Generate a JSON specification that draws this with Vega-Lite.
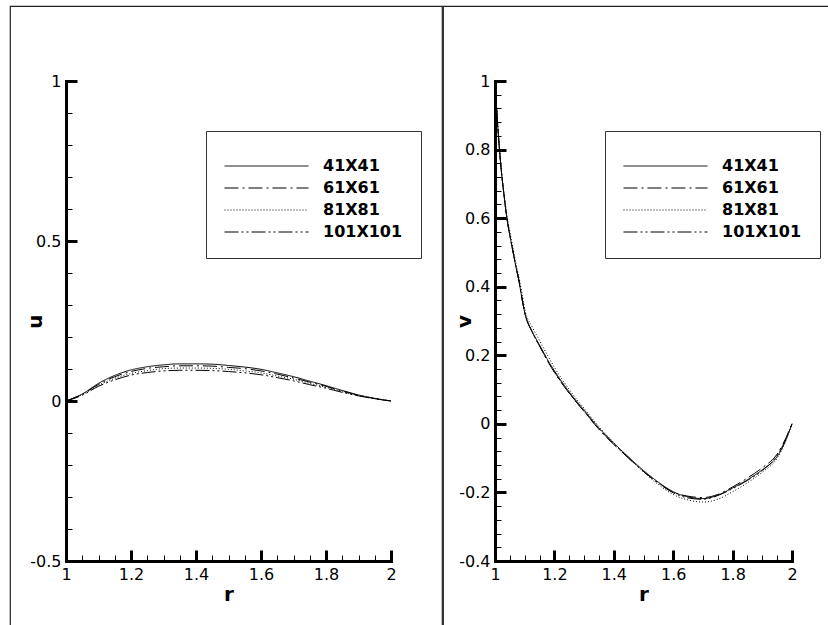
{
  "$schema": "https://vega.github.io/schema/vega-lite/v6.json",
  "padding": {"left": 9, "top": 5, "right": 0, "bottom": 0},
  "background": "white",
  "spacing": -2,
  "config": {
    "view": {"stroke": "#222", "strokeWidth": 1.2, "fill": "white"},
    "axis": {"grid": false, "domainColor": "black", "domainWidth": 3, "domainCap": "square", "tickColor": "black", "labelFont": "DejaVu Sans", "labelFontSize": 16, "labelColor": "black", "labelFlush": false, "labelOverlap": false, "titleFont": "DejaVu Sans", "titleFontSize": 20, "titleFontWeight": "bold", "titleColor": "black"},
    "line": {"color": "black", "strokeWidth": 1, "interpolate": "monotone"}
  },
  "resolve": {"scale": {"strokeDash": "independent"}, "legend": {"strokeDash": "independent"}},
  "datasets": {
    "u": [
      {"r":1.00,"u":0,"g":"41X41"},{"r":1.05,"u":0.022,"g":"41X41"},{"r":1.10,"u":0.055,"g":"41X41"},{"r":1.15,"u":0.080,"g":"41X41"},{"r":1.20,"u":0.097,"g":"41X41"},{"r":1.25,"u":0.107,"g":"41X41"},{"r":1.30,"u":0.113,"g":"41X41"},{"r":1.35,"u":0.116,"g":"41X41"},{"r":1.40,"u":0.116,"g":"41X41"},{"r":1.45,"u":0.115,"g":"41X41"},{"r":1.50,"u":0.111,"g":"41X41"},{"r":1.55,"u":0.106,"g":"41X41"},{"r":1.60,"u":0.099,"g":"41X41"},{"r":1.65,"u":0.088,"g":"41X41"},{"r":1.70,"u":0.076,"g":"41X41"},{"r":1.75,"u":0.062,"g":"41X41"},{"r":1.80,"u":0.048,"g":"41X41"},{"r":1.85,"u":0.033,"g":"41X41"},{"r":1.90,"u":0.019,"g":"41X41"},{"r":1.95,"u":0.008,"g":"41X41"},{"r":2.00,"u":0,"g":"41X41"},
      {"r":1.00,"u":0,"g":"61X61"},{"r":1.05,"u":0.021,"g":"61X61"},{"r":1.10,"u":0.052,"g":"61X61"},{"r":1.15,"u":0.076,"g":"61X61"},{"r":1.20,"u":0.092,"g":"61X61"},{"r":1.25,"u":0.102,"g":"61X61"},{"r":1.30,"u":0.107,"g":"61X61"},{"r":1.35,"u":0.110,"g":"61X61"},{"r":1.40,"u":0.110,"g":"61X61"},{"r":1.45,"u":0.109,"g":"61X61"},{"r":1.50,"u":0.105,"g":"61X61"},{"r":1.55,"u":0.101,"g":"61X61"},{"r":1.60,"u":0.094,"g":"61X61"},{"r":1.65,"u":0.084,"g":"61X61"},{"r":1.70,"u":0.072,"g":"61X61"},{"r":1.75,"u":0.059,"g":"61X61"},{"r":1.80,"u":0.046,"g":"61X61"},{"r":1.85,"u":0.031,"g":"61X61"},{"r":1.90,"u":0.018,"g":"61X61"},{"r":1.95,"u":0.008,"g":"61X61"},{"r":2.00,"u":0,"g":"61X61"},
      {"r":1.00,"u":0,"g":"81X81"},{"r":1.05,"u":0.020,"g":"81X81"},{"r":1.10,"u":0.049,"g":"81X81"},{"r":1.15,"u":0.071,"g":"81X81"},{"r":1.20,"u":0.086,"g":"81X81"},{"r":1.25,"u":0.095,"g":"81X81"},{"r":1.30,"u":0.101,"g":"81X81"},{"r":1.35,"u":0.103,"g":"81X81"},{"r":1.40,"u":0.103,"g":"81X81"},{"r":1.45,"u":0.102,"g":"81X81"},{"r":1.50,"u":0.099,"g":"81X81"},{"r":1.55,"u":0.094,"g":"81X81"},{"r":1.60,"u":0.088,"g":"81X81"},{"r":1.65,"u":0.078,"g":"81X81"},{"r":1.70,"u":0.068,"g":"81X81"},{"r":1.75,"u":0.055,"g":"81X81"},{"r":1.80,"u":0.043,"g":"81X81"},{"r":1.85,"u":0.029,"g":"81X81"},{"r":1.90,"u":0.017,"g":"81X81"},{"r":1.95,"u":0.007,"g":"81X81"},{"r":2.00,"u":0,"g":"81X81"},
      {"r":1.00,"u":0,"g":"101X101"},{"r":1.05,"u":0.018,"g":"101X101"},{"r":1.10,"u":0.046,"g":"101X101"},{"r":1.15,"u":0.066,"g":"101X101"},{"r":1.20,"u":0.081,"g":"101X101"},{"r":1.25,"u":0.089,"g":"101X101"},{"r":1.30,"u":0.094,"g":"101X101"},{"r":1.35,"u":0.096,"g":"101X101"},{"r":1.40,"u":0.096,"g":"101X101"},{"r":1.45,"u":0.095,"g":"101X101"},{"r":1.50,"u":0.092,"g":"101X101"},{"r":1.55,"u":0.088,"g":"101X101"},{"r":1.60,"u":0.082,"g":"101X101"},{"r":1.65,"u":0.073,"g":"101X101"},{"r":1.70,"u":0.063,"g":"101X101"},{"r":1.75,"u":0.051,"g":"101X101"},{"r":1.80,"u":0.040,"g":"101X101"},{"r":1.85,"u":0.027,"g":"101X101"},{"r":1.90,"u":0.016,"g":"101X101"},{"r":1.95,"u":0.007,"g":"101X101"},{"r":2.00,"u":0,"g":"101X101"}
    ],
    "v": [
      {"r":1.00,"v":1.00,"g":"41X41"},{"r":1.01,"v":0.86,"g":"41X41"},{"r":1.02,"v":0.75,"g":"41X41"},{"r":1.03,"v":0.67,"g":"41X41"},{"r":1.04,"v":0.60,"g":"41X41"},{"r":1.05,"v":0.55,"g":"41X41"},{"r":1.06,"v":0.505,"g":"41X41"},{"r":1.07,"v":0.46,"g":"41X41"},{"r":1.08,"v":0.42,"g":"41X41"},{"r":1.09,"v":0.37,"g":"41X41"},{"r":1.10,"v":0.325,"g":"41X41"},{"r":1.125,"v":0.27,"g":"41X41"},{"r":1.15,"v":0.23,"g":"41X41"},{"r":1.175,"v":0.19,"g":"41X41"},{"r":1.20,"v":0.155,"g":"41X41"},{"r":1.25,"v":0.093,"g":"41X41"},{"r":1.30,"v":0.040,"g":"41X41"},{"r":1.35,"v":-0.012,"g":"41X41"},{"r":1.40,"v":-0.056,"g":"41X41"},{"r":1.45,"v":-0.097,"g":"41X41"},{"r":1.50,"v":-0.136,"g":"41X41"},{"r":1.55,"v":-0.170,"g":"41X41"},{"r":1.60,"v":-0.198,"g":"41X41"},{"r":1.65,"v":-0.213,"g":"41X41"},{"r":1.70,"v":-0.218,"g":"41X41"},{"r":1.75,"v":-0.208,"g":"41X41"},{"r":1.80,"v":-0.187,"g":"41X41"},{"r":1.85,"v":-0.163,"g":"41X41"},{"r":1.90,"v":-0.134,"g":"41X41"},{"r":1.95,"v":-0.095,"g":"41X41"},{"r":1.97,"v":-0.065,"g":"41X41"},{"r":2.00,"v":0,"g":"41X41"},
      {"r":1.00,"v":1.00,"g":"61X61"},{"r":1.01,"v":0.86,"g":"61X61"},{"r":1.02,"v":0.75,"g":"61X61"},{"r":1.03,"v":0.67,"g":"61X61"},{"r":1.04,"v":0.60,"g":"61X61"},{"r":1.05,"v":0.55,"g":"61X61"},{"r":1.06,"v":0.505,"g":"61X61"},{"r":1.07,"v":0.46,"g":"61X61"},{"r":1.08,"v":0.42,"g":"61X61"},{"r":1.09,"v":0.37,"g":"61X61"},{"r":1.10,"v":0.325,"g":"61X61"},{"r":1.125,"v":0.268,"g":"61X61"},{"r":1.15,"v":0.227,"g":"61X61"},{"r":1.175,"v":0.186,"g":"61X61"},{"r":1.20,"v":0.150,"g":"61X61"},{"r":1.25,"v":0.089,"g":"61X61"},{"r":1.30,"v":0.036,"g":"61X61"},{"r":1.35,"v":-0.016,"g":"61X61"},{"r":1.40,"v":-0.060,"g":"61X61"},{"r":1.45,"v":-0.100,"g":"61X61"},{"r":1.50,"v":-0.139,"g":"61X61"},{"r":1.55,"v":-0.172,"g":"61X61"},{"r":1.60,"v":-0.199,"g":"61X61"},{"r":1.65,"v":-0.211,"g":"61X61"},{"r":1.70,"v":-0.215,"g":"61X61"},{"r":1.75,"v":-0.206,"g":"61X61"},{"r":1.80,"v":-0.184,"g":"61X61"},{"r":1.85,"v":-0.158,"g":"61X61"},{"r":1.90,"v":-0.128,"g":"61X61"},{"r":1.95,"v":-0.088,"g":"61X61"},{"r":1.97,"v":-0.058,"g":"61X61"},{"r":2.00,"v":0,"g":"61X61"},
      {"r":1.00,"v":1.00,"g":"81X81"},{"r":1.01,"v":0.86,"g":"81X81"},{"r":1.02,"v":0.755,"g":"81X81"},{"r":1.03,"v":0.675,"g":"81X81"},{"r":1.04,"v":0.61,"g":"81X81"},{"r":1.05,"v":0.56,"g":"81X81"},{"r":1.06,"v":0.515,"g":"81X81"},{"r":1.07,"v":0.47,"g":"81X81"},{"r":1.08,"v":0.43,"g":"81X81"},{"r":1.09,"v":0.385,"g":"81X81"},{"r":1.10,"v":0.335,"g":"81X81"},{"r":1.125,"v":0.283,"g":"81X81"},{"r":1.15,"v":0.243,"g":"81X81"},{"r":1.175,"v":0.203,"g":"81X81"},{"r":1.20,"v":0.165,"g":"81X81"},{"r":1.25,"v":0.100,"g":"81X81"},{"r":1.30,"v":0.045,"g":"81X81"},{"r":1.35,"v":-0.008,"g":"81X81"},{"r":1.40,"v":-0.055,"g":"81X81"},{"r":1.45,"v":-0.098,"g":"81X81"},{"r":1.50,"v":-0.140,"g":"81X81"},{"r":1.55,"v":-0.177,"g":"81X81"},{"r":1.60,"v":-0.206,"g":"81X81"},{"r":1.65,"v":-0.222,"g":"81X81"},{"r":1.70,"v":-0.228,"g":"81X81"},{"r":1.75,"v":-0.220,"g":"81X81"},{"r":1.80,"v":-0.198,"g":"81X81"},{"r":1.85,"v":-0.172,"g":"81X81"},{"r":1.90,"v":-0.141,"g":"81X81"},{"r":1.95,"v":-0.100,"g":"81X81"},{"r":1.97,"v":-0.068,"g":"81X81"},{"r":2.00,"v":0,"g":"81X81"},
      {"r":1.00,"v":1.00,"g":"101X101"},{"r":1.01,"v":0.86,"g":"101X101"},{"r":1.02,"v":0.75,"g":"101X101"},{"r":1.03,"v":0.67,"g":"101X101"},{"r":1.04,"v":0.60,"g":"101X101"},{"r":1.05,"v":0.55,"g":"101X101"},{"r":1.06,"v":0.505,"g":"101X101"},{"r":1.07,"v":0.46,"g":"101X101"},{"r":1.08,"v":0.42,"g":"101X101"},{"r":1.09,"v":0.37,"g":"101X101"},{"r":1.10,"v":0.325,"g":"101X101"},{"r":1.125,"v":0.268,"g":"101X101"},{"r":1.15,"v":0.228,"g":"101X101"},{"r":1.175,"v":0.188,"g":"101X101"},{"r":1.20,"v":0.152,"g":"101X101"},{"r":1.25,"v":0.090,"g":"101X101"},{"r":1.30,"v":0.037,"g":"101X101"},{"r":1.35,"v":-0.015,"g":"101X101"},{"r":1.40,"v":-0.059,"g":"101X101"},{"r":1.45,"v":-0.100,"g":"101X101"},{"r":1.50,"v":-0.139,"g":"101X101"},{"r":1.55,"v":-0.173,"g":"101X101"},{"r":1.60,"v":-0.201,"g":"101X101"},{"r":1.65,"v":-0.216,"g":"101X101"},{"r":1.70,"v":-0.220,"g":"101X101"},{"r":1.75,"v":-0.209,"g":"101X101"},{"r":1.80,"v":-0.189,"g":"101X101"},{"r":1.85,"v":-0.165,"g":"101X101"},{"r":1.90,"v":-0.136,"g":"101X101"},{"r":1.95,"v":-0.092,"g":"101X101"},{"r":1.97,"v":-0.062,"g":"101X101"},{"r":2.00,"v":0,"g":"101X101"}
    ]
  },
  "hconcat": [
    {
      "width": 432,
      "height": 620,
      "data": {"name": "u"},
      "resolve": {"axis": {"x": "independent", "y": "independent"}},
      "layer": [
        {
          "mark": {"type": "line"},
          "encoding": {
            "x": {"field": "r", "type": "quantitative",
              "scale": {"domain": [1, 2], "range": [56, 381], "nice": false, "zero": false},
              "axis": {"orient": "bottom", "offset": -65, "values": [1, 1.2, 1.4, 1.6, 1.8, 2], "tickSize": -11, "tickWidth": 3, "labelPadding": 16,
                "labelExpr": "datum.value < 0 ? '-' + format(-datum.value, '~g') : format(datum.value, '~g')",
                "title": "r", "titleX": 218.5, "titleY": 33, "titleBaseline": "middle", "titleAlign": "center"}},
            "y": {"field": "u", "type": "quantitative",
              "scale": {"domain": [-0.5, 1], "range": [555, 75], "nice": false, "zero": false},
              "axis": {"orient": "left", "offset": -56, "values": [-0.5, 0, 0.5, 1], "tickSize": -11, "tickWidth": 3, "labelPadding": 16,
                "labelExpr": "datum.value < 0 ? '-' + format(-datum.value, '~g') : format(datum.value, '~g')",
                "title": "u", "titleX": -31, "titleY": 315, "titleAngle": -90, "titleBaseline": "middle", "titleAlign": "center"}},
            "strokeDash": {"field": "g", "type": "nominal",
              "scale": {"domain": ["41X41", "61X61", "81X81", "101X101"], "range": [[1, 0], [14, 4, 2, 4], [1, 2], [14, 3, 2, 3, 2, 3]]},
              "legend": {"orient": "none", "legendX": 196, "legendY": 125, "title": " ", "titleFontSize": 6, "titlePadding": 3,
                "strokeColor": "#333", "fillColor": "white", "padding": 18, "symbolType": "stroke", "symbolSize": 7056,
                "symbolStrokeWidth": 1, "symbolStrokeColor": "black", "clipHeight": 16, "rowPadding": 6, "labelOffset": 14,
                "labelFont": "DejaVu Sans", "labelFontWeight": "bold", "labelFontSize": 16, "labelColor": "black"}}
          }
        },
        {
          "mark": {"type": "line", "strokeOpacity": 0},
          "encoding": {
            "x": {"field": "r", "type": "quantitative",
              "scale": {"domain": [1, 2], "range": [56, 381], "nice": false, "zero": false},
              "axis": {"orient": "bottom", "offset": -65, "values": [1.05, 1.1, 1.15, 1.25, 1.3, 1.35, 1.45, 1.5, 1.55, 1.65, 1.7, 1.75, 1.85, 1.9, 1.95], "tickSize": -6, "tickWidth": 1, "labels": false, "domain": false, "title": null}},
            "y": {"field": "u", "type": "quantitative",
              "scale": {"domain": [-0.5, 1], "range": [555, 75], "nice": false, "zero": false},
              "axis": {"orient": "left", "offset": -56, "values": [-0.4, -0.3, -0.2, -0.1, 0.1, 0.2, 0.3, 0.4, 0.6, 0.7, 0.8, 0.9], "tickSize": -6, "tickWidth": 1, "labels": false, "domain": false, "title": null}}
          }
        }
      ]
    },
    {
      "width": 389,
      "height": 620,
      "data": {"name": "v"},
      "resolve": {"axis": {"x": "independent", "y": "independent"}},
      "layer": [
        {
          "mark": {"type": "line"},
          "encoding": {
            "x": {"field": "r", "type": "quantitative",
              "scale": {"domain": [1, 2], "range": [52, 349], "nice": false, "zero": false},
              "axis": {"orient": "bottom", "offset": -65, "values": [1, 1.2, 1.4, 1.6, 1.8, 2], "tickSize": -11, "tickWidth": 3, "labelPadding": 16,
                "labelExpr": "datum.value < 0 ? '-' + format(-datum.value, '~g') : format(datum.value, '~g')",
                "title": "r", "titleX": 200.5, "titleY": 33, "titleBaseline": "middle", "titleAlign": "center"}},
            "y": {"field": "v", "type": "quantitative",
              "scale": {"domain": [-0.4, 1], "range": [555, 75], "nice": false, "zero": false},
              "axis": {"orient": "left", "offset": -52, "values": [-0.4, -0.2, 0, 0.2, 0.4, 0.6, 0.8, 1], "tickSize": -11, "tickWidth": 3, "labelPadding": 16,
                "labelExpr": "datum.value < 0 ? '-' + format(-datum.value, '~g') : format(datum.value, '~g')",
                "title": "v", "titleX": -31, "titleY": 315, "titleAngle": -90, "titleBaseline": "middle", "titleAlign": "center"}},
            "strokeDash": {"field": "g", "type": "nominal",
              "scale": {"domain": ["41X41", "61X61", "81X81", "101X101"], "range": [[1, 0], [14, 4, 2, 4], [1, 2], [14, 3, 2, 3, 2, 3]]},
              "legend": {"orient": "none", "legendX": 162, "legendY": 125, "title": " ", "titleFontSize": 6, "titlePadding": 3,
                "strokeColor": "#333", "fillColor": "white", "padding": 18, "symbolType": "stroke", "symbolSize": 7056,
                "symbolStrokeWidth": 1, "symbolStrokeColor": "black", "clipHeight": 16, "rowPadding": 6, "labelOffset": 14,
                "labelFont": "DejaVu Sans", "labelFontWeight": "bold", "labelFontSize": 16, "labelColor": "black"}}
          }
        },
        {
          "mark": {"type": "line", "strokeOpacity": 0},
          "encoding": {
            "x": {"field": "r", "type": "quantitative",
              "scale": {"domain": [1, 2], "range": [52, 349], "nice": false, "zero": false},
              "axis": {"orient": "bottom", "offset": -65, "values": [1.05, 1.1, 1.15, 1.25, 1.3, 1.35, 1.45, 1.5, 1.55, 1.65, 1.7, 1.75, 1.85, 1.9, 1.95], "tickSize": -6, "tickWidth": 1, "labels": false, "domain": false, "title": null}},
            "y": {"field": "v", "type": "quantitative",
              "scale": {"domain": [-0.4, 1], "range": [555, 75], "nice": false, "zero": false},
              "axis": {"orient": "left", "offset": -52, "values": [-0.36, -0.32, -0.28, -0.24, -0.16, -0.12, -0.08, -0.04, 0.04, 0.08, 0.12, 0.16, 0.24, 0.28, 0.32, 0.36, 0.44, 0.48, 0.52, 0.56, 0.64, 0.68, 0.72, 0.76, 0.84, 0.88, 0.92, 0.96], "tickSize": -6, "tickWidth": 1, "labels": false, "domain": false, "title": null}}
          }
        }
      ]
    }
  ]
}
